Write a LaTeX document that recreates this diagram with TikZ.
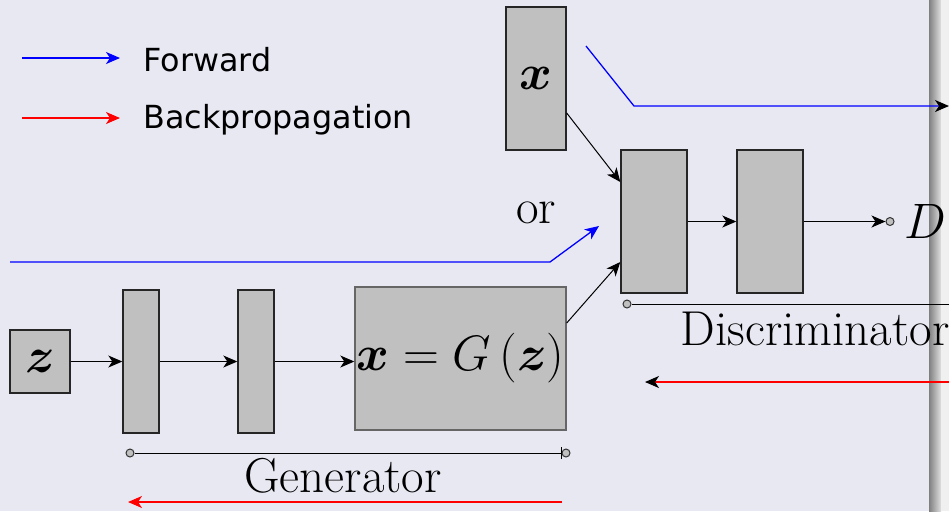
\documentclass[tikz,border=0pt]{standalone}
\usepackage{fontspec}
\usepackage{amsmath,bm}
\newfontfamily\legendfont{DejaVu Sans}
\usetikzlibrary{positioning, calc, arrows.meta}

\definecolor{slidebg}{HTML}{E8E8F3}
\definecolor{boxgray}{HTML}{C0C0C0}

\tikzset{
    layer/.style={draw=black!85, fill=boxgray, line width=0.7pt, inner sep=0pt},
    tip/.style={-{Stealth[length=7pt, width=6pt, inset=2pt, #1]}},
    tip/.default={},
    flow/.style={tip, line width=0.5pt},
    fwd/.style={blue, line width=0.65pt},
    back/.style={red, line width=0.65pt},
    endpt/.style={circle, draw=black!80, fill=boxgray, line width=0.5pt, inner sep=0pt, minimum size=4pt},
    bigtext/.style={font=\fontsize{24.5}{29}\selectfont, inner sep=0pt},
    mathbig/.style={font=\fontsize{26.5}{31}\selectfont}
}

\begin{document}
\begin{tikzpicture}[x=0.5pt, y=-0.5pt]

    % ================= slide background =================
    \useasboundingbox (0,0) rectangle (949,511);
    \clip (0,0) rectangle (949,511);
    \fill[slidebg] (0,0) rectangle (949,511);
    \shade[left color=black!50, right color=black!12] (929,0) rectangle (941,511);
    \fill[black!6] (941,0) rectangle (949,511);

    % ================= Legend =================
    \coordinate (legFa) at (22,58);
    \coordinate (legFb) at (120,58);
    \coordinate (legBa) at (22,118);
    \coordinate (legBb) at (120,118);
    \draw[fwd, tip] (legFa) -- (legFb);
    \draw[back, tip] (legBa) -- (legBb);
    \node[anchor=west, inner sep=0pt, font=\legendfont\fontsize{15.9}{18}\selectfont] (legF) at (143,60) {Forward};
    \node[anchor=west, inner sep=0pt, font=\legendfont\fontsize{15.9}{18}\selectfont] (legB) at (143,120) {Backpropagation};

    % ================= Generator =================
    \node[layer, mathbig, minimum width=30pt, minimum height=31.5pt] (zin) at (40,361.5) {$\bm{z}$};
    \node[layer, minimum width=18pt, minimum height=71.5pt] (gA) at (141,361.5) {};
    \node[layer, minimum width=18pt, minimum height=71.5pt] (gB) at (256,361.5) {};
    \node[layer, mathbig, draw=black!60, minimum width=105.5pt, minimum height=71.5pt] (gout) at (460.5,358.5)
        {$\bm{x}=G\left(\bm{z}\right)$};

    \draw[flow] (zin) -- (gA);
    \draw[flow] (gA) -- (gB);
    \draw[flow] (gB) -- (gB -| gout.west);

    \node[endpt] (genL) at (130,453) {};
    \node[endpt] (genR) at (566,453) {};
    \draw[line width=0.5pt, -{Bar[width=6pt]}] (genL) -- (genR.west);
    \node[bigtext] (genlbl) at (343,476) {Generator};

    % ================= Discriminator =================
    \node[layer, mathbig, minimum width=30pt, minimum height=71.5pt] (xreal) at (536,78.5) {$\bm{x}$};
    \node[bigtext] (orlbl) at (536,213) {or};
    \node[layer, minimum width=33pt, minimum height=71.5pt] (dA) at (654,221.5) {};
    \node[layer, minimum width=33pt, minimum height=71.5pt] (dB) at (770,221.5) {};
    \node[endpt] (dout) at (890,221.5) {};
    \node[inner sep=0pt, mathbig, anchor=west] (dlbl) at (904,221.5) {$D$};

    \draw[flow] (xreal.east |- 0,113) -- (dA.west |- 0,182);
    \draw[flow] (gout.east |- 0,323) -- (dA.west |- 0,262);
    \draw[flow] (dA) -- (dB);
    \draw[flow] (dB) -- (dout);

    \node[endpt] (disL) at (627,304) {};
    \coordinate (disR) at (960,304);
    \draw[line width=0.5pt] (disL) -- (disR);
    \node[bigtext] (dislbl) at (815,329) {Discriminator};

    % ================= Forward / backward paths =================
    \coordinate (fwdTa) at (586,46);
    \coordinate (fwdTb) at (634,106);
    \coordinate (fwdTc) at (949,106);
    \draw[fwd, tip=black] (fwdTa) -- (fwdTb) -- (fwdTc);

    \coordinate (fwdGa) at (10,262);
    \coordinate (fwdGb) at (550,262);
    \coordinate (fwdGc) at (599,226);
    \draw[fwd, tip] (fwdGa) -- (fwdGb) -- (fwdGc);

    \coordinate (backDa) at (960,382);
    \coordinate (backDb) at (645,382);
    \draw[back, tip=black] (backDa) -- (backDb);

    \coordinate (backGa) at (562,502);
    \coordinate (backGb) at (128,502);
    \draw[back, tip] (backGa) -- (backGb);

\end{tikzpicture}
\end{document}
